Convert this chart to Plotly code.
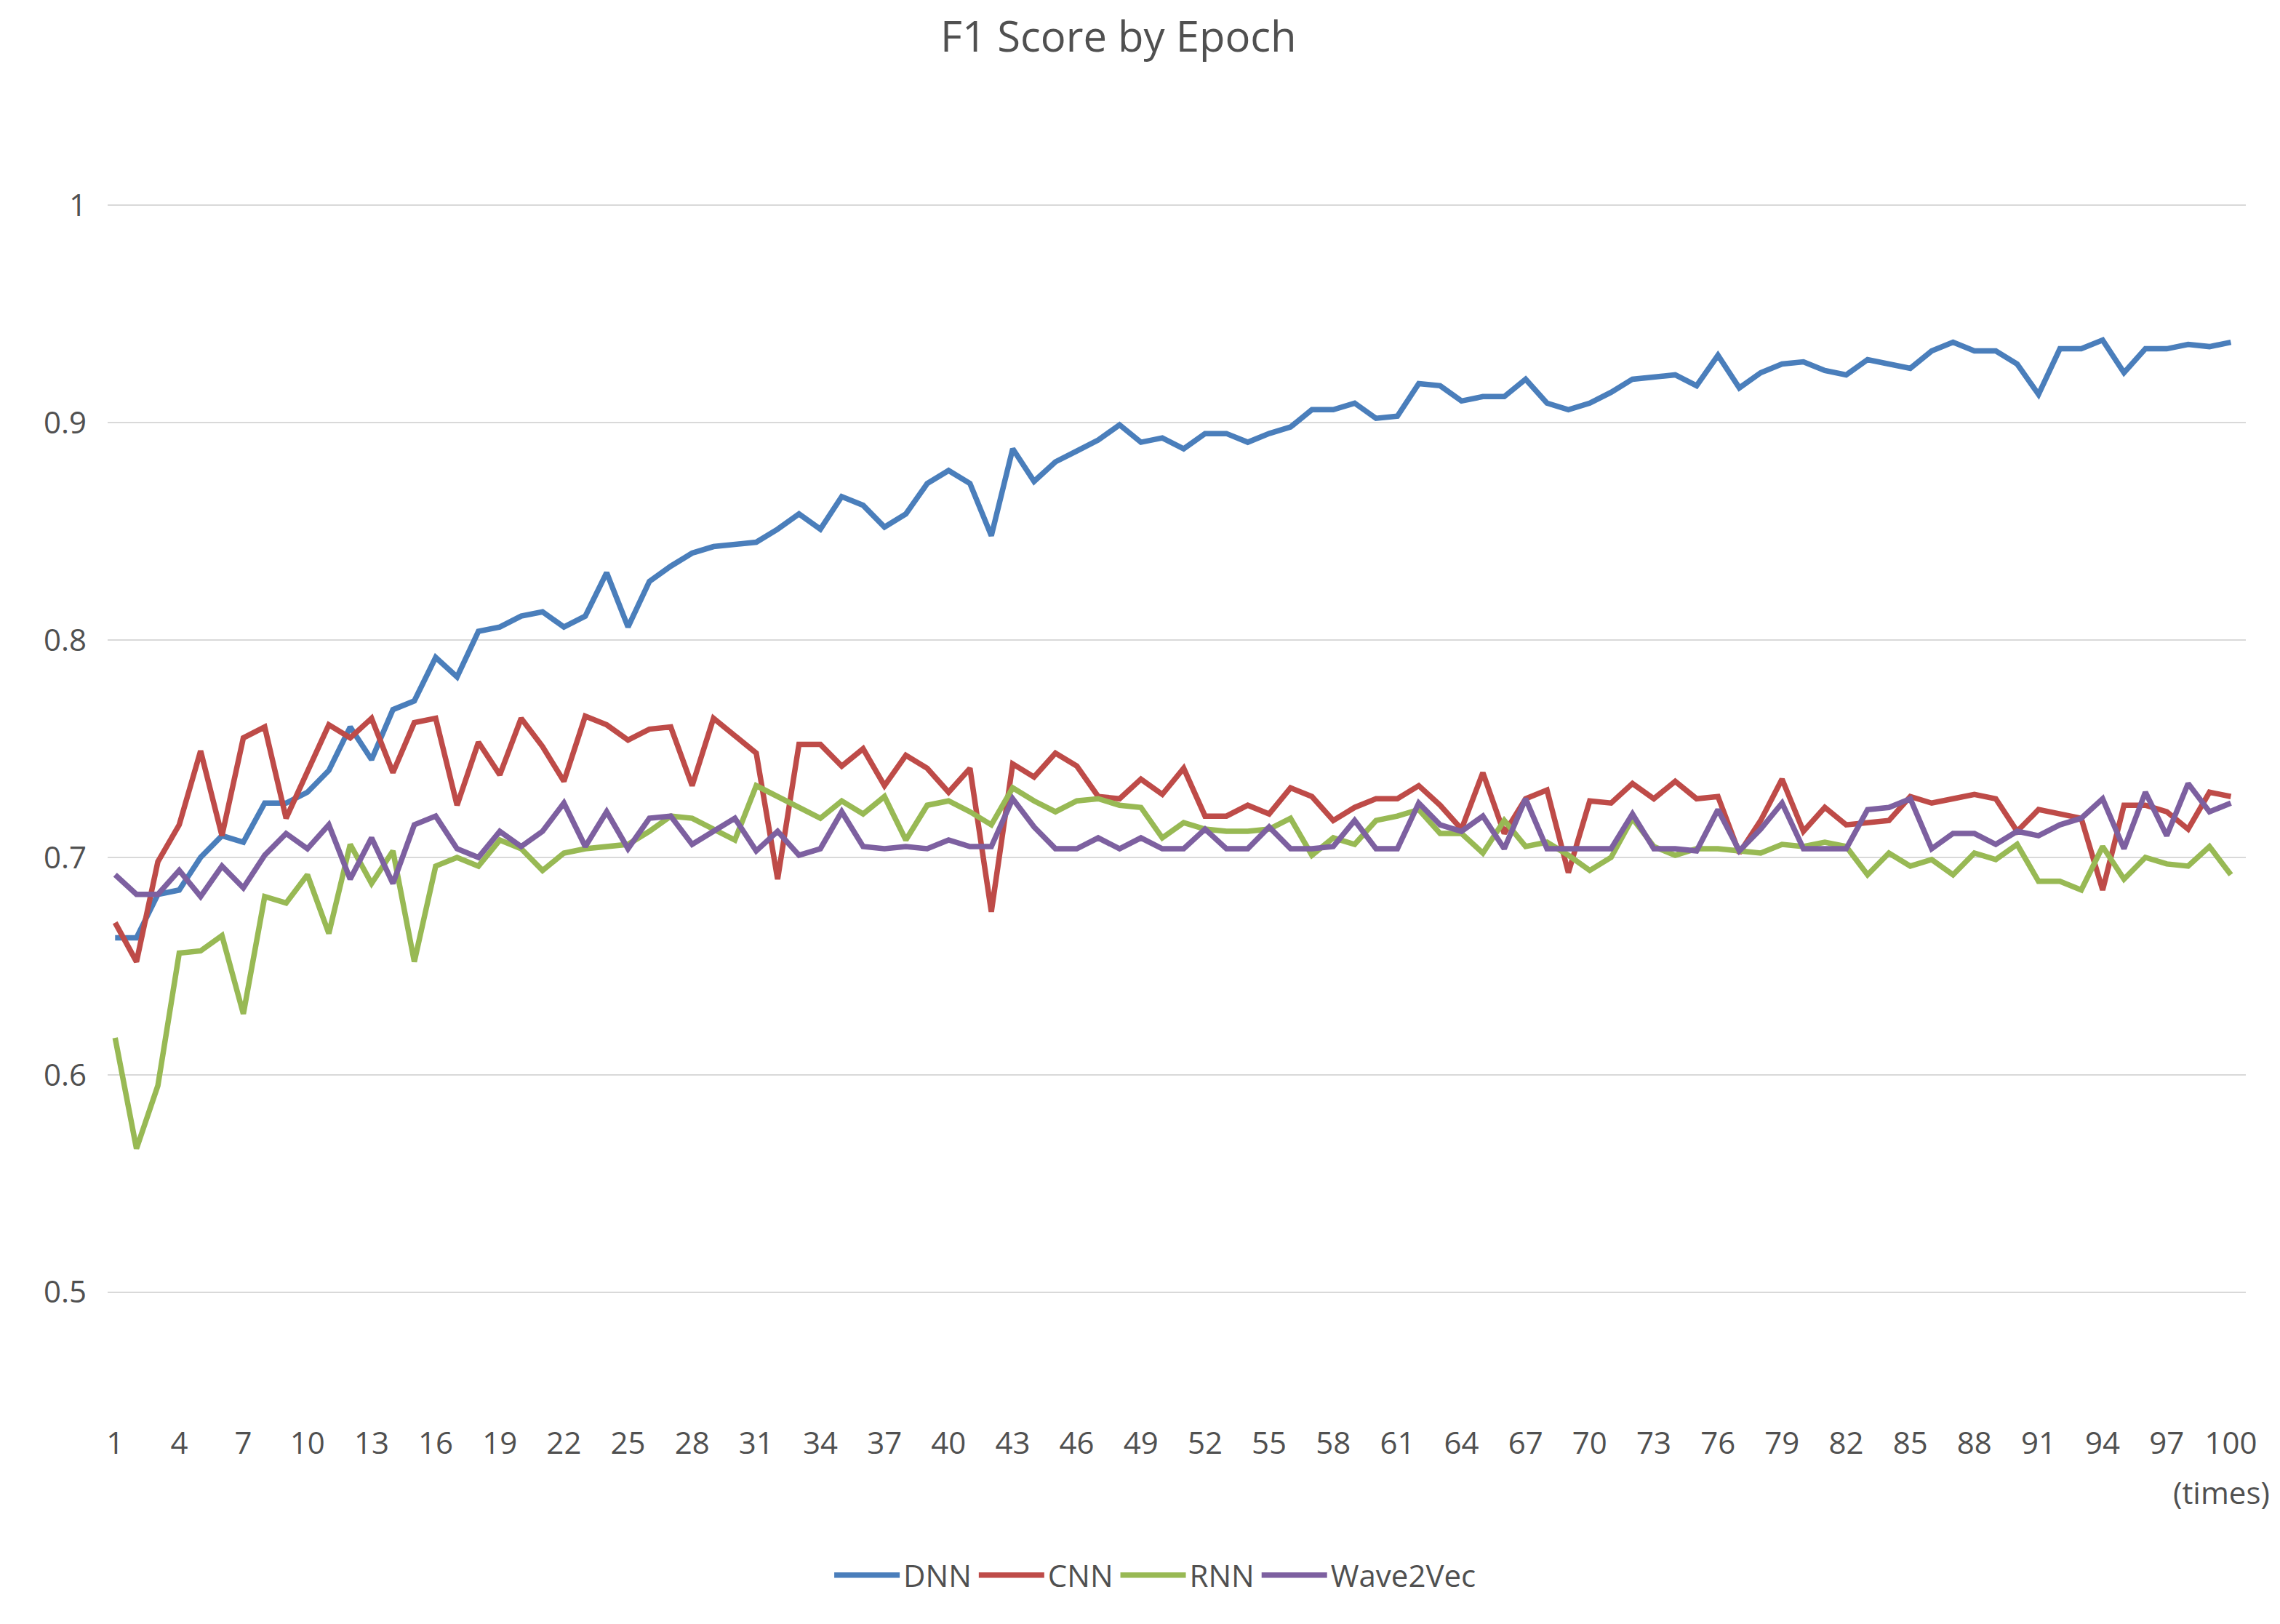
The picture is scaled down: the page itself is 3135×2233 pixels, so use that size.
import plotly.graph_objects as go

epochs = list(range(1, 101))
dnn = [0.663,0.663,0.683,0.685,0.700,0.710,0.707,0.725,0.725,0.730,0.740,0.760,0.745,0.768,0.772,0.792,0.783,0.804,0.806,0.811,
       0.813,0.806,0.811,0.831,0.806,0.827,0.834,0.840,0.843,0.844,0.845,0.851,0.858,0.851,0.866,0.862,0.852,0.858,0.872,0.878,
       0.872,0.848,0.888,0.873,0.882,0.887,0.892,0.899,0.891,0.893,0.888,0.895,0.895,0.891,0.895,0.898,0.906,0.906,0.909,0.902,
       0.903,0.918,0.917,0.910,0.912,0.912,0.920,0.909,0.906,0.909,0.914,0.920,0.921,0.922,0.917,0.931,0.916,0.923,0.927,0.928,
       0.924,0.922,0.929,0.927,0.925,0.933,0.937,0.933,0.933,0.927,0.913,0.934,0.934,0.938,0.923,0.934,0.934,0.936,0.935,0.937]
cnn = [0.670,0.652,0.698,0.715,0.749,0.710,0.755,0.760,0.718,0.740,0.761,0.755,0.764,0.739,0.762,0.764,0.724,0.753,0.738,0.764,
       0.751,0.735,0.765,0.761,0.754,0.759,0.760,0.733,0.764,0.756,0.748,0.690,0.752,0.752,0.742,0.750,0.733,0.747,0.741,0.730,
       0.741,0.675,0.743,0.737,0.748,0.742,0.728,0.727,0.736,0.729,0.741,0.719,0.719,0.724,0.720,0.732,0.728,0.717,0.723,0.727,
       0.727,0.733,0.724,0.713,0.739,0.711,0.727,0.731,0.693,0.726,0.725,0.734,0.727,0.735,0.727,0.728,0.702,0.717,0.736,0.712,
       0.723,0.715,0.716,0.717,0.728,0.725,0.727,0.729,0.727,0.712,0.722,0.720,0.718,0.685,0.724,0.724,0.721,0.713,0.730,0.728]
rnn = [0.617,0.566,0.595,0.656,0.657,0.664,0.628,0.682,0.679,0.692,0.665,0.706,0.688,0.703,0.652,0.696,0.700,0.696,0.708,0.704,
       0.694,0.702,0.704,0.705,0.706,0.712,0.719,0.718,0.713,0.708,0.733,0.728,0.723,0.718,0.726,0.720,0.728,0.708,0.724,0.726,
       0.721,0.715,0.732,0.726,0.721,0.726,0.727,0.724,0.723,0.709,0.716,0.713,0.712,0.712,0.713,0.718,0.701,0.709,0.706,0.717,
       0.719,0.722,0.711,0.711,0.702,0.717,0.705,0.707,0.701,0.694,0.700,0.718,0.705,0.701,0.704,0.704,0.703,0.702,0.706,0.705,
       0.707,0.705,0.692,0.702,0.696,0.699,0.692,0.702,0.699,0.706,0.689,0.689,0.685,0.705,0.690,0.700,0.697,0.696,0.705,0.692]
w2v = [0.692,0.683,0.683,0.694,0.682,0.696,0.686,0.701,0.711,0.704,0.715,0.690,0.709,0.688,0.715,0.719,0.704,0.700,0.712,0.705,
       0.712,0.725,0.705,0.721,0.704,0.718,0.719,0.706,0.712,0.718,0.703,0.712,0.701,0.704,0.721,0.705,0.704,0.705,0.704,0.708,
       0.705,0.705,0.727,0.714,0.704,0.704,0.709,0.704,0.709,0.704,0.704,0.713,0.704,0.704,0.714,0.704,0.704,0.705,0.717,0.704,
       0.704,0.725,0.715,0.712,0.719,0.704,0.727,0.704,0.704,0.704,0.704,0.720,0.704,0.704,0.703,0.722,0.703,0.713,0.725,0.704,
       0.704,0.704,0.722,0.723,0.727,0.704,0.711,0.711,0.706,0.712,0.710,0.715,0.718,0.727,0.704,0.730,0.710,0.734,0.721,0.725]
x_ticks = list(range(1, 100, 3)) + [100]
y_ticks = [0.5, 0.6, 0.7, 0.8, 0.9, 1.0]
y_labels = ["0.5", "0.6", "0.7", "0.8", "0.9", "1"]

series = [("DNN", dnn, "#4a7ebb"), ("CNN", cnn, "#be4b48"), ("RNN", rnn, "#98b954"), ("Wave2Vec", w2v, "#7d60a0")]

fig = go.Figure()
for name, ys, col in series:
    fig.add_trace(go.Scatter(x=epochs, y=ys, mode="lines", name=name,
                             line=dict(color=col, width=7.5)))

fig.update_layout(
    width=3135, height=2233,
    paper_bgcolor="white", plot_bgcolor="white",
    font=dict(family="Open Sans", size=42, color="#505050"),
    title=dict(text="F1 Score by Epoch", x=0.488, xanchor="center", y=0.99, yanchor="top",
               font=dict(size=58, color="#505050")),
    margin=dict(l=140, r=55, t=95, b=285),
    showlegend=True,
    legend=dict(orientation="h", x=0.49, xanchor="center", y=-0.095, yanchor="top",
                font=dict(size=42), itemwidth=90, tracegroupgap=20),
    xaxis=dict(range=[0.65, 100.7], tickvals=x_ticks, ticktext=[str(v) for v in x_ticks],
               showgrid=False, showline=False, zeroline=False, ticks=""),
    yaxis=dict(range=[0.44, 1.06], tickvals=y_ticks, ticktext=y_labels,
               showgrid=True, gridcolor="#d9d9d9", gridwidth=2, zeroline=False, ticks="",
               showline=False, ticklabelstandoff=28),
)
fig.add_annotation(text="(times)", xref="paper", yref="paper", x=1.012, y=-0.035,
                   xanchor="right", yanchor="top", showarrow=False, font=dict(size=42))
fig.write_html("out.html")
